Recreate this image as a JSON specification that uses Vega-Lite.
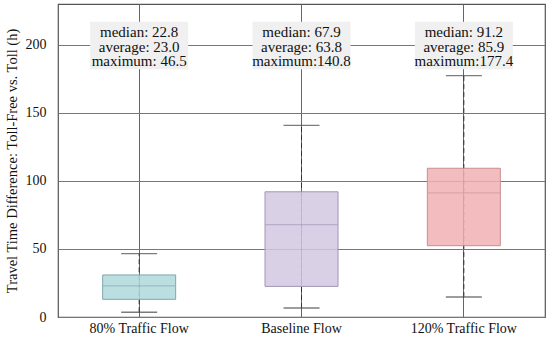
{
  "$schema": "https://vega.github.io/schema/vega-lite/v6.json",
  "width": 487,
  "height": 313,
  "autosize": "none",
  "padding": {"left": 58, "top": 4, "right": 5, "bottom": 27},
  "background": "white",
  "config": {
    "font": "Liberation Serif",
    "view": {"stroke": "#555", "strokeWidth": 1.2}
  },
  "data": {
    "values": [
      {"group": "80% Traffic Flow", "min": 3.5, "q1": 13, "median": 22.8, "q3": 30.9, "max": 46.5, "label": "median: 22.8\naverage: 23.0\nmaximum: 46.5"},
      {"group": "Baseline Flow", "min": 6.6, "q1": 22.5, "median": 67.9, "q3": 92, "max": 140.8, "label": "median: 67.9\naverage: 63.8\nmaximum:140.8"},
      {"group": "120% Traffic Flow", "min": 14.7, "q1": 52.4, "median": 91.2, "q3": 109.3, "max": 177.4, "label": "median: 91.2\naverage: 85.9\nmaximum:177.4"}
    ]
  },
  "encoding": {
    "x": {
      "field": "group", "type": "nominal",
      "sort": ["80% Traffic Flow", "Baseline Flow", "120% Traffic Flow"],
      "scale": {"paddingInner": 0, "paddingOuter": 0},
      "axis": {
        "title": null, "labelAngle": 0, "labelFontSize": 14, "labelColor": "#111",
        "labelPadding": 4, "ticks": false, "domain": false,
        "grid": true, "gridColor": "#666", "gridWidth": 1, "bandPosition": 0.5
      }
    }
  },
  "layer": [
    {
      "mark": {"type": "rule", "color": "#333", "strokeWidth": 1, "strokeDash": [5, 3]},
      "encoding": {
        "y": {
          "field": "min", "type": "quantitative",
          "scale": {"domain": [0, 230], "nice": false},
          "axis": {
            "title": "Travel Time Difference: Toll-Free vs. Toll (h)",
            "titleFontSize": 14.5, "titleFontWeight": "normal", "titleColor": "#111", "titlePadding": 6,
            "values": [0, 50, 100, 150, 200], "labelFontSize": 14, "labelColor": "#111",
            "labelPadding": 12, "ticks": false, "domain": false,
            "grid": true, "gridColor": "#777", "gridWidth": 1
          }
        },
        "y2": {"field": "max"}
      }
    },
    {
      "mark": {"type": "tick", "color": "#444", "thickness": 1.3, "size": 36, "orient": "horizontal"},
      "encoding": {"y": {"field": "min", "type": "quantitative"}}
    },
    {
      "mark": {"type": "tick", "color": "#444", "thickness": 1.3, "size": 36, "orient": "horizontal"},
      "encoding": {"y": {"field": "max", "type": "quantitative"}}
    },
    {
      "mark": {"type": "bar", "size": 73, "fillOpacity": 0.85, "strokeWidth": 1},
      "encoding": {
        "y": {"field": "q1", "type": "quantitative"},
        "y2": {"field": "q3"},
        "fill": {
          "field": "group", "type": "nominal", "legend": null,
          "scale": {"domain": ["80% Traffic Flow", "Baseline Flow", "120% Traffic Flow"], "range": ["#afd8db", "#d2c8e2", "#f1b2b4"]}
        },
        "stroke": {
          "field": "group", "type": "nominal", "legend": null,
          "scale": {"domain": ["80% Traffic Flow", "Baseline Flow", "120% Traffic Flow"], "range": ["#7fa8ad", "#a096b3", "#c98d90"]}
        }
      }
    },
    {
      "mark": {"type": "tick", "size": 73, "thickness": 1.2, "orient": "horizontal"},
      "encoding": {
        "y": {"field": "median", "type": "quantitative"},
        "color": {
          "field": "group", "type": "nominal", "legend": null,
          "scale": {"domain": ["80% Traffic Flow", "Baseline Flow", "120% Traffic Flow"], "range": ["#8cb3b7", "#a99fbd", "#d39a9c"]}
        }
      }
    },
    {
      "mark": {"type": "bar", "size": 98, "color": "#f0f0f0"},
      "encoding": {"y": {"datum": 182}, "y2": {"datum": 217}}
    },
    {
      "mark": {"type": "text", "lineBreak": "\n", "fontSize": 15, "lineHeight": 14.5, "color": "#111", "baseline": "middle", "align": "center"},
      "encoding": {
        "y": {"datum": 209.4},
        "text": {"field": "label"}
      }
    }
  ]
}
